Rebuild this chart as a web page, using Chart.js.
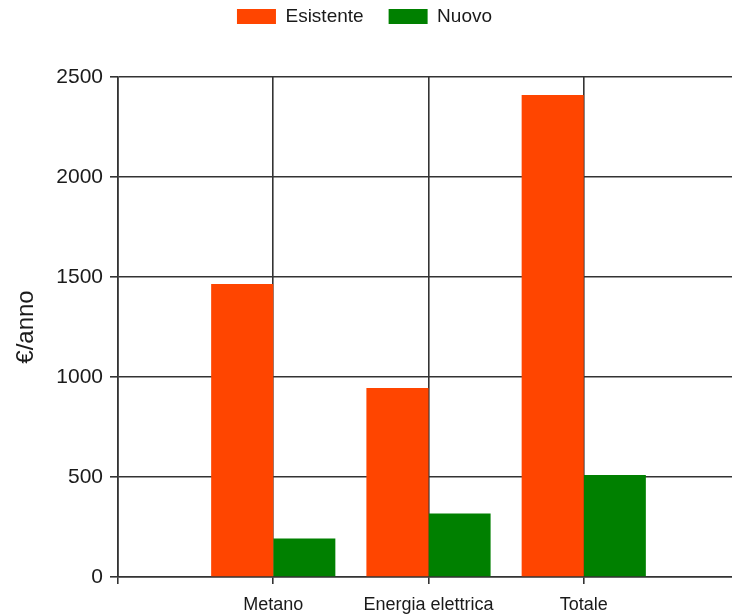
<!DOCTYPE html>
<html>
<head>
<meta charset="utf-8">
<script src="https://cdn.jsdelivr.net/npm/chart.js@4/dist/chart.umd.min.js"></script>
<style>
  html, body { margin: 0; padding: 0; background: #fff; overflow: hidden; }
  #wrap { width: 740px; height: 616px; }
</style>
</head>
<body>
<div id="wrap"><canvas id="c" width="740" height="616"></canvas></div>
<script>
// Annual energy cost, existing vs. new building
const categories = ['Metano', 'Energia elettrica', 'Totale'];
const esistente = [1465, 945, 2410];
const nuovo = [193, 317, 510];
const yTicks = [0, 500, 1000, 1500, 2000, 2500];

const seriesNames = ['Esistente', 'Nuovo'];
const seriesColors = ['#FF4500', '#008000'];

// The category axis keeps an empty slot at each end, so the groups sit on
// the inner grid lines; the last slot falls just past the visible window.
const labels = ['', ...categories, ''];
const padSlots = arr => [null, ...arr, null];

const gridColor = '#333333';
const textColor = '#1a1a1a';
const fontFamily = '"Liberation Sans", Arial, sans-serif';

// Legend block: fixed height (room below the row) and a small left shift
const legendLayout = {
  id: 'legendLayout',
  beforeLayout(chart) {
    const lg = chart.legend;
    if (lg && !lg._fixedFit) {
      const fit = lg.fit;
      lg.fit = function () {
        fit.call(this);
        this.height = 95;
      };
      lg._fixedFit = true;
    }
  },
  afterLayout(chart) {
    const lg = chart.legend;
    if (lg) {
      lg.left -= 5;
      lg.right -= 5;
    }
  }
};

new Chart(document.getElementById('c'), {
  type: 'bar',
  data: {
    labels: labels,
    datasets: [
      {
        label: seriesNames[0],
        data: padSlots(esistente),
        backgroundColor: seriesColors[0],
        borderColor: seriesColors[0],
        borderWidth: 0
      },
      {
        label: seriesNames[1],
        data: padSlots(nuovo),
        backgroundColor: seriesColors[1],
        borderColor: seriesColors[1],
        borderWidth: 0
      }
    ]
  },
  plugins: [legendLayout],
  options: {
    responsive: false,
    animation: false,
    devicePixelRatio: 1,
    layout: { padding: { top: -18, left: 0, right: 1, bottom: 0 } },
    datasets: {
      bar: { categoryPercentage: 0.8, barPercentage: 1.0 }
    },
    plugins: {
      legend: {
        position: 'top',
        labels: {
          boxWidth: 39,
          boxHeight: 15,
          padding: 25,
          color: textColor,
          font: { family: fontFamily, size: 19 }
        }
      },
      tooltip: { enabled: false }
    },
    scales: {
      x: {
        type: 'category',
        offset: false,
        afterFit(scale) {
          scale.height = 39;
          scale.paddingLeft = 0;
          scale.paddingRight = 0;
        },
        grid: {
          offset: false,
          color: gridColor,
          lineWidth: 1.6,
          drawTicks: true,
          tickLength: 7,
          tickColor: gridColor
        },
        border: { color: gridColor, width: 1.6 },
        ticks: {
          color: textColor,
          padding: 10,
          maxRotation: 0,
          autoSkip: false,
          font: { family: fontFamily, size: 18 }
        }
      },
      y: {
        min: 0,
        max: 2500,
        afterBuildTicks(scale) {
          scale.ticks = yTicks.map(v => ({ value: v }));
        },
        afterFit(scale) {
          scale.width = 118;
        },
        grid: {
          color: gridColor,
          lineWidth: 1.6,
          drawTicks: true,
          tickLength: 8,
          tickColor: gridColor
        },
        border: { color: gridColor, width: 1.6 },
        ticks: {
          color: textColor,
          padding: 7,
          font: { family: fontFamily, size: 21 },
          callback: v => String(v)
        },
        title: {
          display: true,
          text: '€/anno',
          color: textColor,
          padding: { top: 12, bottom: 0 },
          font: { family: fontFamily, size: 24 }
        }
      }
    }
  }
});
</script>
</body>
</html>
